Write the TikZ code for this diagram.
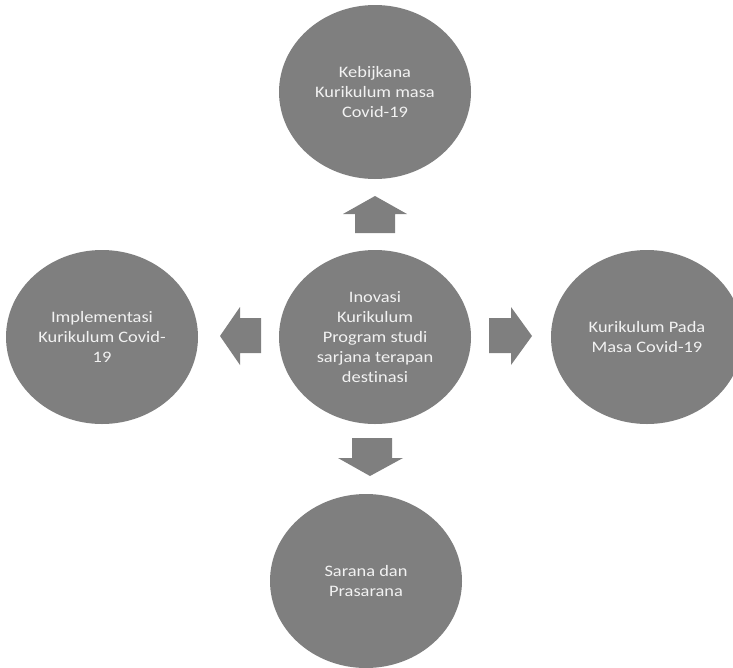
\documentclass[tikz,border=0pt]{standalone}
\usepackage{fontspec}
\setmainfont[FakeStretch=1.15,Ligatures=NoCommon]{Carlito}
\usetikzlibrary{shapes.geometric}
\definecolor{bubble}{HTML}{7F7F7F}
\definecolor{bubbletext}{HTML}{F2F2F2}
\tikzset{
  bubble/.style={ellipse, fill=bubble, draw=none, minimum width=192pt, minimum height=174pt,
    inner sep=0pt, align=center, text=bubbletext, font=\fontsize{16}{20}\selectfont},
  blockarrow/.style={fill=bubble, draw=none}
}
\begin{document}
\begin{tikzpicture}[x=1pt,y=-1pt]
\useasboundingbox (0,0) rectangle (733,667);
\clip (0,0) rectangle (733,667);
\node[bubble] (top) at (375,92) {Kebijkana\\Kurikulum masa\\Covid-19};
\node[bubble] (center) at (375,337) {Inovasi\\Kurikulum\\Program studi\\sarjana terapan\\destinasi};
\node[bubble] (left) at (102,337) {Implementasi\\Kurikulum Covid-\\19};
\node[bubble] (right) at (647,337) {Kurikulum Pada\\Masa Covid-19};
\node[bubble] (bottom) at (366,581) {Sarana dan\\Prasarana};
% block arrows
\coordinate (upA) at (375,196);
\fill[blockarrow] (upA) -- (407,214) -- (395,214) -- (395,233) -- (355,233) -- (355,214) -- (343,214) -- cycle;
\coordinate (leftA) at (220,336);
\fill[blockarrow] (leftA) -- (240,307) -- (240,318) -- (261,318) -- (261,353) -- (240,353) -- (240,365) -- cycle;
\coordinate (rightA) at (532,336);
\fill[blockarrow] (rightA) -- (511,307) -- (511,318) -- (489,318) -- (489,353) -- (511,353) -- (511,365) -- cycle;
\coordinate (downA) at (370,476);
\fill[blockarrow] (downA) -- (338,458) -- (352,458) -- (352,438) -- (392,438) -- (392,458) -- (403,458) -- cycle;
\end{tikzpicture}
\end{document}
